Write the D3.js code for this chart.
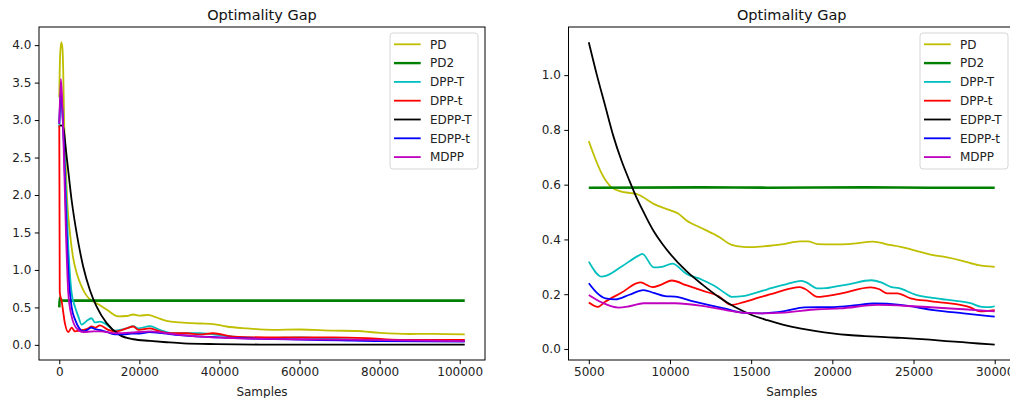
<!DOCTYPE html>
<html>
<head>
<meta charset="utf-8">
<script src="https://cdn.jsdelivr.net/npm/d3@7"></script>
<style>
  body { margin: 0; background: #fff; }
  svg { display: block; font-family: "DejaVu Sans", sans-serif; }
</style>
</head>
<body>
<div id="chart"></div>
<script>
// series names and matplotlib single-letter colours
const seriesNames = ['PD', 'PD2', 'DPP-T', 'DPP-t', 'EDPP-T', 'EDPP-t', 'MDPP'];
const seriesColors = ['#bfbf00', '#008000', '#00bfbf', '#ff0000', '#000000', '#0000ff', '#bf00bf'];

// left panel: full run, [samples, gap]
const pdFull = [[0,3.3],[200,3.85],[500,4.04],[800,3.95],[1000,3.62],[1200,3.0],[1420,2.7],[2000,1.9],[2670,1.49],[3400,1.18],[4340,0.96],[5400,0.8],[6410,0.69],[7400,0.62],[8490,0.58],[10160,0.53],[12650,0.44],[14000,0.39],[14730,0.38],[16810,0.385],[18470,0.405],[20140,0.39],[22210,0.4],[24300,0.365],[26800,0.32],[30120,0.3],[35110,0.285],[38430,0.278],[41760,0.245],[46750,0.22],[53400,0.2],[60070,0.205],[68380,0.19],[74220,0.185],[80030,0.16],[87520,0.145],[93340,0.147],[101250,0.14]];
const pd2Full = [[0,0.5],[120,0.63],[400,0.6],[1200,0.59],[30000,0.59],[60000,0.59],[101250,0.59]];
const dppTFull = [[0,2.9],[400,3.3],[800,3.1],[1420,2.38],[2250,1.31],[3090,0.69],[3920,0.51],[4750,0.38],[5590,0.27],[6840,0.32],[8080,0.355],[8910,0.3],[10160,0.31],[11830,0.27],[13900,0.19],[16810,0.22],[18470,0.25],[19720,0.22],[22640,0.25],[25130,0.2],[28460,0.155],[35110,0.155],[38430,0.14],[43420,0.11],[51740,0.09],[60070,0.1],[68380,0.08],[76700,0.067],[85000,0.06],[101250,0.058]];
const dppSFull = [[0,2.93],[120,0.7],[600,0.58],[1400,0.29],[2250,0.17],[3080,0.23],[3910,0.18],[5000,0.19],[6000,0.2],[7240,0.22],[8070,0.245],[9000,0.23],[10160,0.26],[12230,0.2],[14320,0.18],[16810,0.22],[18470,0.245],[19720,0.2],[22640,0.22],[25130,0.18],[27630,0.155],[31790,0.155],[35110,0.14],[38430,0.155],[43420,0.11],[51740,0.1],[60070,0.1],[68380,0.1],[76700,0.09],[85020,0.067],[101250,0.065]];
const edppTFull = [[200,2.93],[900,2.92],[1850,2.51],[3090,1.93],[4340,1.49],[6000,1.04],[7660,0.73],[9330,0.51],[11830,0.29],[15150,0.13],[18470,0.075],[22640,0.053],[26800,0.035],[31000,0.02],[39260,0.01],[50000,0.004],[70000,0.002],[101250,0.002]];
const edppSFull = [[0,2.95],[400,3.4],[800,3.1],[1200,2.6],[1700,1.7],[2300,0.95],[3100,0.5],[4000,0.33],[5000,0.22],[6000,0.18],[7000,0.2],[8000,0.23],[9000,0.21],[10000,0.2],[12000,0.17],[14000,0.14],[16000,0.14],[18000,0.15],[20000,0.15],[22500,0.17],[25000,0.16],[30000,0.13],[40000,0.1],[50000,0.08],[60000,0.07],[70000,0.06],[80000,0.05],[101250,0.045]];
const mdppFull = [[0,2.95],[400,3.55],[700,3.3],[1000,2.82],[1670,1.49],[2250,0.69],[3090,0.38],[4340,0.22],[6000,0.17],[8490,0.18],[10160,0.18],[14320,0.155],[18470,0.165],[22640,0.18],[26800,0.155],[35110,0.11],[43420,0.09],[60070,0.075],[76700,0.067],[101250,0.05]];

// right panel: zoom on 5000..30000
const pdZoom = [[5000,0.759],[5500,0.68],[5800,0.64],[6400,0.59],[7000,0.575],[7500,0.57],[8000,0.565],[8300,0.556],[9000,0.53],[10000,0.507],[10500,0.495],[11000,0.47],[12000,0.44],[13000,0.41],[13800,0.38],[14500,0.373],[15000,0.372],[16000,0.376],[17000,0.383],[18000,0.393],[18500,0.393],[19100,0.383],[20000,0.382],[21000,0.383],[22500,0.392],[23500,0.38],[24200,0.373],[25000,0.361],[26200,0.343],[27000,0.335],[28000,0.322],[29000,0.306],[30000,0.3]];
const pd2Zoom = [[5000,0.589],[12000,0.59],[16000,0.589],[22000,0.59],[26000,0.589],[30000,0.589]];
const dppTZoom = [[5000,0.319],[5800,0.264],[6000,0.266],[7000,0.3],[8100,0.342],[8300,0.347],[9000,0.298],[9500,0.3],[10150,0.312],[11000,0.275],[12000,0.252],[12800,0.228],[13500,0.2],[13800,0.19],[14500,0.193],[16000,0.218],[17000,0.234],[18100,0.249],[18400,0.243],[19100,0.221],[19600,0.222],[20000,0.226],[21000,0.236],[22400,0.251],[23000,0.243],[23600,0.227],[24100,0.222],[25200,0.197],[26000,0.188],[27000,0.18],[28000,0.173],[28500,0.167],[29200,0.154],[29700,0.153],[30000,0.156]];
const dppSZoom = [[5000,0.17],[5575,0.154],[6000,0.172],[7000,0.205],[8168,0.243],[8924,0.226],[9500,0.236],[10110,0.25],[11000,0.233],[12000,0.213],[13000,0.192],[13786,0.161],[14500,0.17],[15500,0.188],[16500,0.205],[17972,0.226],[18300,0.22],[19093,0.19],[19600,0.193],[20500,0.202],[22363,0.225],[22900,0.218],[23385,0.203],[24000,0.203],[24813,0.185],[26000,0.175],[27000,0.168],[27878,0.161],[28500,0.152],[29103,0.137],[30000,0.142]];
const edppTZoom = [[5000,1.12],[5500,1.0],[6000,0.89],[6500,0.78],[7000,0.69],[7500,0.615],[8000,0.545],[8500,0.485],[9000,0.43],[9500,0.386],[10000,0.348],[11000,0.285],[12000,0.235],[13000,0.19],[14000,0.153],[15000,0.125],[16000,0.105],[17000,0.088],[18000,0.075],[19000,0.065],[20000,0.057],[21000,0.051],[22000,0.047],[23000,0.044],[24000,0.041],[25000,0.038],[26000,0.034],[27000,0.029],[28000,0.025],[29000,0.02],[30000,0.016]];
const edppSZoom = [[5000,0.24],[5500,0.205],[6023,0.185],[6636,0.181],[7500,0.198],[8372,0.215],[9000,0.205],[9700,0.193],[10312,0.191],[11300,0.176],[12353,0.161],[13400,0.147],[14400,0.133],[15625,0.13],[17053,0.138],[18278,0.152],[20116,0.153],[21500,0.16],[22567,0.166],[24200,0.161],[26244,0.142],[28082,0.13],[30000,0.118]];
const mdppZoom = [[5000,0.197],[5820,0.169],[6838,0.151],[7500,0.156],[8372,0.167],[10312,0.167],[12353,0.154],[14400,0.133],[15625,0.13],[17053,0.133],[19093,0.145],[20500,0.148],[22770,0.161],[25220,0.155],[28082,0.145],[30000,0.137]];

const fullSeries = [pdFull, pd2Full, dppTFull, dppSFull, edppTFull, edppSFull, mdppFull];
const zoomSeries = [pdZoom, pd2Zoom, dppTZoom, dppSZoom, edppTZoom, edppSZoom, mdppZoom];

const fullXTicks = [0, 20000, 40000, 60000, 80000, 100000];
const fullYTicks = [0, 0.5, 1.0, 1.5, 2.0, 2.5, 3.0, 3.5, 4.0];
const zoomXTicks = [5000, 10000, 15000, 20000, 25000, 30000];
const zoomYTicks = [0, 0.2, 0.4, 0.6, 0.8, 1.0];

const title = 'Optimality Gap';
const xLabel = 'Samples';

const W = 1010, H = 398;
const svg = d3.select('#chart').append('svg')
  .attr('width', W).attr('height', H);

function drawPanel(box, series, xDomain, yDomain, xTicks, yTicks) {
  const x = d3.scaleLinear().domain(xDomain).range([box.left, box.right]);
  const y = d3.scaleLinear().domain(yDomain).range([box.bottom, box.top]);
  const g = svg.append('g');

  // x axis
  const xAxis = d3.axisBottom(x).tickValues(xTicks).tickSize(4.2).tickPadding(3.5)
    .tickFormat(d3.format('d'));
  const gx = g.append('g').attr('transform', 'translate(0,' + box.bottom + ')').call(xAxis);
  // y axis
  const yAxis = d3.axisLeft(y).tickValues(yTicks).tickSize(4.2).tickPadding(3.5)
    .tickFormat(d3.format('.1f'));
  const gy = g.append('g').attr('transform', 'translate(' + box.left + ',0)').call(yAxis);
  [gx, gy].forEach(a => {
    a.select('.domain').remove();
    a.selectAll('.tick line').attr('stroke', '#000').attr('stroke-width', 1);
    a.selectAll('.tick text').attr('fill', '#222').attr('font-size', 12)
      .attr('font-family', '"DejaVu Sans", sans-serif');
  });

  // lines
  const line = d3.line()
    .x(d => x(d[0])).y(d => y(d[1]))
    .curve(d3.curveMonotoneX);
  const clipId = 'clip' + Math.round(box.left);
  g.append('clipPath').attr('id', clipId).append('rect')
    .attr('x', box.left).attr('y', box.top)
    .attr('width', box.right - box.left).attr('height', box.bottom - box.top);
  const plot = g.append('g').attr('clip-path', 'url(#' + clipId + ')');
  series.forEach((s, i) => {
    plot.append('path')
      .datum(s)
      .attr('d', line)
      .attr('fill', 'none')
      .attr('stroke', seriesColors[i])
      .attr('stroke-width', i === 1 ? 2.6 : 1.8)
      .attr('stroke-linejoin', 'round');
  });

  // frame
  g.append('rect')
    .attr('x', box.left).attr('y', box.top)
    .attr('width', box.right - box.left).attr('height', box.bottom - box.top)
    .attr('fill', 'none').attr('stroke', '#000').attr('stroke-width', 1);

  // title & label
  const cx = (box.left + box.right) / 2;
  g.append('text').attr('x', cx).attr('y', 20)
    .attr('text-anchor', 'middle').attr('font-size', 14.5).attr('fill', '#111')
    .text(title);
  g.append('text').attr('x', cx).attr('y', 396)
    .attr('text-anchor', 'middle').attr('font-size', 12).attr('fill', '#222')
    .text(xLabel);

  // legend
  const lw = 88, lh = 136;
  const lx = box.right - 7 - lw, ly = box.top + 6;
  const leg = g.append('g').attr('transform', 'translate(' + lx + ',' + ly + ')');
  leg.append('rect').attr('width', lw).attr('height', lh).attr('rx', 3)
    .attr('fill', 'rgba(255,255,255,0.8)').attr('stroke', '#d6d6d6').attr('stroke-width', 1);
  seriesNames.forEach((name, i) => {
    const yy = 11.3 + i * 18.8;
    leg.append('line').attr('x1', 4).attr('x2', 30.7).attr('y1', yy).attr('y2', yy)
      .attr('stroke', seriesColors[i]).attr('stroke-width', i === 1 ? 2.4 : 1.8);
    leg.append('text').attr('x', 40).attr('y', yy + 4.3)
      .attr('font-size', 12).attr('fill', '#222').text(name);
  });
}

drawPanel({ left: 39, right: 485, top: 27, bottom: 360 }, fullSeries,
  [-5062, 106312], [-0.202, 4.242], fullXTicks, fullYTicks);
drawPanel({ left: 568.5, right: 1015, top: 27, bottom: 360 }, zoomSeries,
  [3750, 31250], [-0.0403, 1.1758], zoomXTicks, zoomYTicks);
</script>
</body>
</html>
